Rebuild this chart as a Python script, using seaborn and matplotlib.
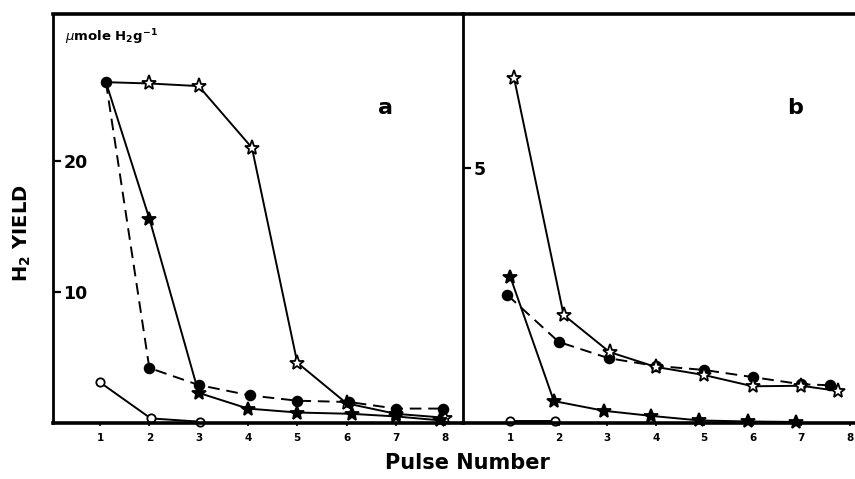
import matplotlib
matplotlib.use("Agg")
import matplotlib.pyplot as plt
import seaborn as sns
import numpy as np

# ---------------- data ----------------
pulse_ticks = [1, 2, 3, 4, 5, 6, 7, 8]

# panel a  (umole H2 / g)
a_open_star_x = [1.12, 2.0, 3.0, 4.08, 5.0, 6.0, 7.0, 8.0]
a_open_star_y = [26.0, 25.9, 25.7, 21.0, 4.6, 1.5, 0.7, 0.4]
a_fill_star_x = [1.12, 2.0, 3.0, 4.0, 5.0, 6.1, 7.0, 7.9]
a_fill_star_y = [26.0, 15.6, 2.3, 1.1, 0.8, 0.7, 0.5, 0.2]
a_fill_circ_x = [1.12, 2.0, 3.0, 4.05, 5.0, 6.05, 7.0, 7.95]
a_fill_circ_y = [26.0, 4.2, 2.9, 2.1, 1.7, 1.6, 1.1, 1.1]
a_open_circ_x = [1.0, 2.03, 3.03]
a_open_circ_y = [3.1, 0.35, 0.1]

# panel b
b_open_star_x = [1.08, 2.1, 3.05, 4.0, 5.0, 6.0, 7.0, 7.75]
b_open_star_y = [6.76, 2.12, 1.39, 1.1, 0.94, 0.72, 0.73, 0.63]
b_fill_circ_x = [0.94, 2.0, 3.03, 4.0, 5.0, 6.0, 7.0, 7.6]
b_fill_circ_y = [2.51, 1.59, 1.27, 1.12, 1.04, 0.9, 0.76, 0.74]
b_fill_star_x = [1.0, 1.9, 2.93, 3.9, 4.9, 5.9, 6.9]
b_fill_star_y = [2.87, 0.43, 0.24, 0.14, 0.05, 0.03, 0.02]
b_open_circ_x = [1.0, 1.93]
b_open_circ_y = [0.04, 0.04]

a_yticks = [10, 20]
b_yticks = [5]

# ---------------- style ----------------
sns.set_style("white")
plt.rcParams["font.family"] = ["DejaVu Sans"]
plt.rcParams["text.color"] = "black"
plt.rcParams["axes.labelcolor"] = "black"
plt.rcParams["xtick.color"] = "black"
plt.rcParams["ytick.color"] = "black"
plt.rcParams["mathtext.fontset"] = "custom"
plt.rcParams["mathtext.rm"] = "DejaVu Sans:bold"
plt.rcParams["mathtext.it"] = "DejaVu Sans:italic"
plt.rcParams["mathtext.bf"] = "DejaVu Sans:bold"

W, H = 855, 479
fig = plt.figure(figsize=(W / 100, H / 100), dpi=100)
axA = fig.add_axes([53 / W, (H - 423) / H, 410 / W, 409 / H])
axB = fig.add_axes([463 / W, (H - 423) / H, 394 / W, 409 / H])

K = "black"


def series(ax, x, y, marker, filled, dashed, first_marker=True, msize=9):
    kw = dict(color=K, linewidth=1.4, errorbar=None, ax=ax, sort=False,
              marker=marker, markersize=msize, markeredgecolor=K,
              markeredgewidth=1.3, markerfacecolor=K if filled else "white",
              clip_on=False)
    if dashed:
        kw["dashes"] = False
        kw["linestyle"] = (0, (6, 3.5))
    if not first_marker:
        kw["markevery"] = list(range(1, len(x)))
    sns.lineplot(x=x, y=y, **kw)


# panel a
series(axA, a_open_circ_x, a_open_circ_y, "o", False, False, msize=6)
series(axA, a_open_star_x, a_open_star_y, "*", False, False, first_marker=False, msize=11)
series(axA, a_fill_star_x, a_fill_star_y, "*", True, False, first_marker=False, msize=10)
series(axA, a_fill_circ_x, a_fill_circ_y, "o", True, True, msize=7)

# panel b
series(axB, b_open_circ_x, b_open_circ_y, "o", False, False, msize=6)
series(axB, b_fill_star_x, b_fill_star_y, "*", True, False, msize=10)
series(axB, b_fill_circ_x, b_fill_circ_y, "o", True, True, msize=7)
series(axB, b_open_star_x, b_open_star_y, "*", False, False, msize=11)

axA.set_xlim(0.047, 8.36)
axA.set_ylim(0, 31.2)
axB.set_xlim(0.026, 8.15)
axB.set_ylim(0, 8.02)

for ax, yt in ((axA, a_yticks), (axB, b_yticks)):
    ax.set_xlabel("")
    ax.set_ylabel("")
    ax.set_facecolor("white")
    ax.set_xticks(pulse_ticks)
    ax.set_xticklabels([str(t) for t in pulse_ticks], fontweight="bold", fontsize=7.5)
    ax.set_yticks(yt)
    ax.set_yticklabels([str(t) for t in yt], fontweight="bold", fontsize=12.5)
    ax.tick_params(axis="y", direction="in", length=6, width=1.6, pad=-7.5, left=True)
    ax.tick_params(axis="x", direction="out", length=2, width=1.2, pad=5, bottom=True)
    for lab in ax.get_yticklabels():
        lab.set_ha("left")
    for s in ("top", "bottom", "left"):
        ax.spines[s].set_visible(True)
        ax.spines[s].set_color(K)
    ax.spines["top"].set_linewidth(2.6)
    ax.spines["bottom"].set_linewidth(2.6)
    ax.spines["left"].set_linewidth(2.0)
    ax.spines["right"].set_visible(False)

axA.text(0.03, 0.968, r"$\mu$mole H$_\mathbf{2}$g$^\mathbf{-1}$", transform=axA.transAxes,
         fontsize=9.5, fontweight="bold", ha="left", va="top")
axA.text(0.81, 0.77, "a", transform=axA.transAxes, fontsize=16, fontweight="bold",
         ha="center", va="center")
axB.text(0.843, 0.77, "b", transform=axB.transAxes, fontsize=16, fontweight="bold",
         ha="center", va="center")

fig.text(22 / W, 1 - 233 / H, r"H$_\mathbf{2}$ YIELD", rotation=90, fontsize=14,
         fontweight="bold", ha="center", va="center")
fig.text(467 / W, 1 - 463 / H, "Pulse Number", fontsize=15, fontweight="bold",
         ha="center", va="center")

fig.savefig("out.png", dpi=100)
